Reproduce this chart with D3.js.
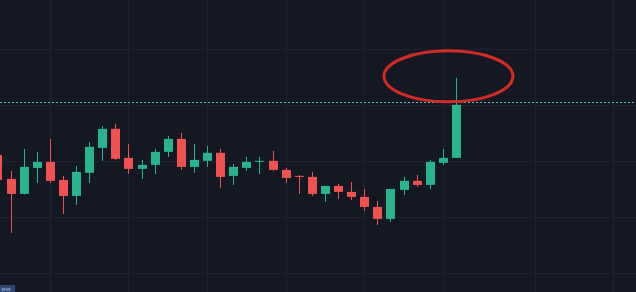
<!DOCTYPE html>
<html>
<head>
<meta charset="utf-8">
<script src="https://cdn.jsdelivr.net/npm/d3@7"></script>
<style>
  html, body { margin: 0; padding: 0; background: #141823; }
  svg { display: block; }
</style>
</head>
<body>
<div id="vis"></div>
<script>
// candle data, one entry per bar (price units)
var opens  = [121.03, 116.73, 114.05, 118.70, 119.78, 116.55, 113.69, 117.81, 122.28, 125.68,
              120.49, 118.52, 119.24, 121.57, 123.89, 118.88, 119.96, 121.39, 117.27, 118.70,
              119.78, 119.96, 118.34, 117.27, 117.09, 114.05, 115.48, 114.41, 113.51, 111.72,
              109.58, 114.77, 116.38, 115.66, 119.60, 120.49];
var highs  = [121.92, 118.17, 122.10, 121.57, 123.89, 117.27, 119.06, 123.36, 126.22, 126.58,
              123.00, 120.13, 122.10, 124.43, 124.97, 123.00, 122.64, 122.10, 119.42, 120.67,
              120.67, 121.74, 118.70, 117.40, 117.99, 115.48, 115.84, 116.20, 114.94, 112.80,
              114.94, 117.09, 117.45, 120.13, 122.10, 134.81];
var lows   = [115.84, 107.07, 113.95, 116.02, 116.02, 110.47, 112.08, 116.02, 119.96, 120.13,
              117.63, 116.73, 117.63, 120.67, 118.34, 117.81, 118.88, 115.12, 115.66, 118.17,
              117.63, 118.17, 116.02, 114.05, 113.69, 112.62, 113.15, 112.98, 111.01, 108.50,
              109.04, 113.87, 115.30, 114.94, 119.24, 120.49];
var closes = [116.55, 114.05, 118.88, 119.78, 116.38, 113.69, 117.99, 122.46, 125.68, 120.31,
              118.52, 119.24, 121.57, 123.89, 118.88, 120.13, 121.39, 117.09, 118.88, 119.78,
              119.96, 118.34, 116.91, 117.09, 114.05, 115.48, 114.41, 113.51, 111.72, 109.58,
              114.94, 116.38, 115.66, 119.78, 120.49, 129.98];

var priceGrid = [100, 110, 120, 130, 140];     // horizontal grid levels
var timeGrid = [4, 10, 16, 22, 28, 34, 41, 47]; // bar indexes with vertical grid lines
var lastPrice = 130.51;                          // dotted price line
var markPrice = 135.08;                          // centre of the red ring

var width = 636;
var height = 292;

var bars = opens.map(function (o, i) {
    return { i: i, open: o, high: highs[i], low: lows[i], close: closes[i] };
});

var x = d3.scaleLinear().domain([0, 35]).range([-2.6, 456]);
var y = d3.scaleLinear().domain([100, 140]).range([272.5, 48.75]);

var upColor = '#27b48e';
var downColor = '#f05252';
var gridColor = '#1e2230';
var bodyWidth = 9;

var svg = d3.select('#vis')
    .append('svg')
    .attr('width', width)
    .attr('height', height);

svg.append('rect')
    .attr('width', width)
    .attr('height', height)
    .attr('fill', '#141823');

// grid
svg.append('g').selectAll('line')
    .data(priceGrid)
    .enter().append('line')
    .attr('x1', 0).attr('x2', width)
    .attr('y1', function (d) { return Math.round(y(d)) + 0.5; })
    .attr('y2', function (d) { return Math.round(y(d)) + 0.5; })
    .attr('stroke', gridColor)
    .attr('stroke-width', 1);

svg.append('g').selectAll('line')
    .data(timeGrid)
    .enter().append('line')
    .attr('x1', function (d) { return Math.round(x(d)) + 0.5; })
    .attr('x2', function (d) { return Math.round(x(d)) + 0.5; })
    .attr('y1', 0).attr('y2', height)
    .attr('stroke', gridColor)
    .attr('stroke-width', 1);

// candles
var candle = svg.append('g').selectAll('g')
    .data(bars)
    .enter().append('g');

candle.append('line')
    .attr('x1', function (d) { return Math.round(x(d.i)) + 0.5; })
    .attr('x2', function (d) { return Math.round(x(d.i)) + 0.5; })
    .attr('y1', function (d) { return y(d.high); })
    .attr('y2', function (d) { return y(d.low); })
    .attr('stroke', function (d) { return d.close >= d.open ? upColor : downColor; })
    .attr('stroke-width', 1);

candle.append('rect')
    .attr('x', function (d) { return Math.round(x(d.i)) + 0.5 - bodyWidth / 2; })
    .attr('y', function (d) { return y(Math.max(d.open, d.close)); })
    .attr('width', bodyWidth)
    .attr('height', function (d) {
        return Math.max(1, Math.abs(y(d.open) - y(d.close)));
    })
    .attr('fill', function (d) { return d.close >= d.open ? upColor : downColor; });

// last price line
svg.append('line')
    .attr('x1', 0).attr('x2', width)
    .attr('y1', Math.round(y(lastPrice)) + 0.5)
    .attr('y2', Math.round(y(lastPrice)) + 0.5)
    .attr('stroke', '#4cc2b6')
    .attr('stroke-width', 1)
    .attr('stroke-dasharray', '2,2');

// hand drawn highlight round the last wick
svg.append('ellipse')
    .attr('cx', x(35) - 7.5)
    .attr('cy', y(markPrice))
    .attr('rx', 64.5)
    .attr('ry', 25.5)
    .attr('fill', 'none')
    .attr('stroke', '#d22b24')
    .attr('stroke-width', 3);

// cut off label at the bottom left
svg.append('rect')
    .attr('x', 0).attr('y', 285)
    .attr('width', 15).attr('height', 7)
    .attr('fill', '#2e4670');
svg.append('text')
    .attr('x', 1).attr('y', 291)
    .attr('font-family', 'DejaVu Sans, sans-serif')
    .attr('font-size', 6)
    .attr('fill', '#9db8e6')
    .text('ww');
</script>
</body>
</html>
